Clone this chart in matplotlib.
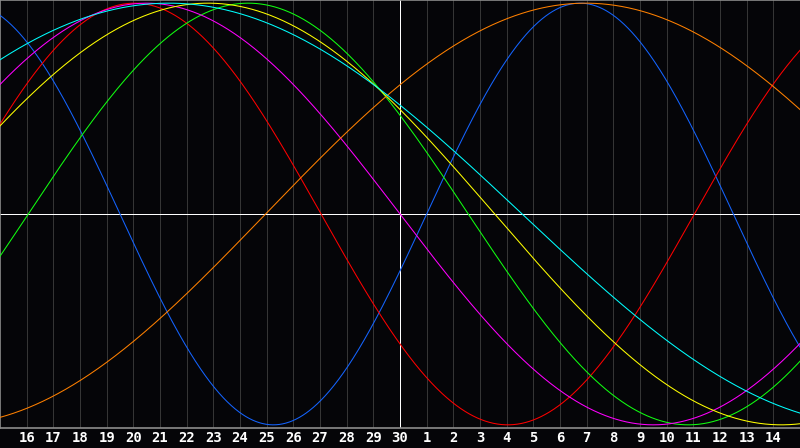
import numpy as np
import matplotlib
matplotlib.use("Agg")
import matplotlib.pyplot as plt

# day labels along the bottom (index 1..29), centre line is the 30th
day_labels = [16, 17, 18, 19, 20, 21, 22, 23, 24, 25, 26, 27, 28, 29, 30,
              1, 2, 3, 4, 5, 6, 7, 8, 9, 10, 11, 12, 13, 14]
today_index = 15

# cycle lengths in days and the day index where each one rises through zero
periods = [23, 28, 33, 38, 43, 48, 53]
rise_index = [16.0, -1.96, 1.06, -4.0, -2.95, 9.96, -6.92]
colors = ['#1464ff', '#ff0000', '#10ff10', '#ff00ff', '#ffff00', '#ff8000', '#00ffff']

bg = '#050508'

fig = plt.figure(figsize=(8, 4.48), dpi=100, facecolor=bg)
ax = fig.add_axes([0, 20 / 448, 1, 428 / 448])
ax.set_facecolor(bg)

t = np.linspace(0, 30, 1201)

# day grid
for i in range(1, 30):
    ax.axvline(i, color='#353535', lw=0.5, zorder=1, antialiased=False)
ax.axvline(today_index, color='white', lw=0.5, zorder=2, antialiased=False)
ax.axhline(0, color='white', lw=0.5, zorder=2, antialiased=False)

for p, r, c in zip(periods, rise_index, colors):
    ax.plot(t, np.sin(2 * np.pi * (t - r) / p), color=c, lw=0.75, zorder=3)

ax.set_xlim(0, 30)
ax.set_ylim(-1.015, 1.015)
ax.set_xticks([])
ax.set_yticks([])

for s in ['top', 'left', 'bottom']:
    ax.spines[s].set_color('#8c8c8c')
    ax.spines[s].set_linewidth(1.2)
ax.spines['right'].set_visible(False)

for i, lab in enumerate(day_labels, start=1):
    ax.text(i, -1.03, str(lab), ha='center', va='top',
            color='white', fontsize=10, fontweight='bold',
            family='DejaVu Sans Mono', clip_on=False)

fig.savefig('out.png', dpi=100, facecolor=bg)
